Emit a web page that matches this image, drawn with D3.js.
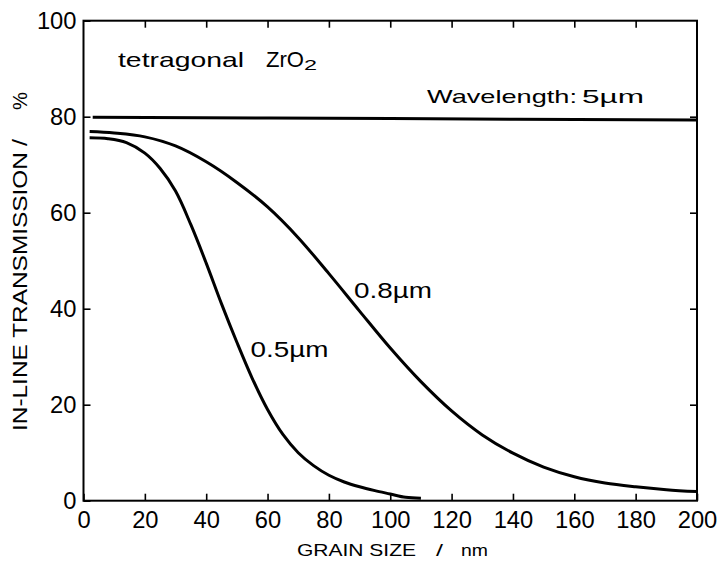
<!DOCTYPE html>
<html>
<head>
<meta charset="utf-8">
<script src="https://cdn.jsdelivr.net/npm/d3@7"></script>
<style>
  body { margin: 0; background: #fff; }
  text { font-family: "Liberation Sans", Arial, sans-serif; fill: #000; }
</style>
</head>
<body>
<div id="chart"></div>
<script>
// grain size (nm) vs in-line transmission (%) for three wavelengths
var grain5 = [3, 100, 200];
var trans5 = [79.9, 79.6, 79.3];

var grain08 = [2, 10, 20, 30, 40, 50, 60, 70, 80, 90, 100, 110, 120, 130, 140, 150, 160, 170, 180, 190, 200];
var trans08 = [76.9, 76.6, 75.8, 73.9, 70.6, 66.3, 61.2, 54.8, 47.3, 39.5, 31.8, 24.8, 18.7, 13.7, 9.9, 7.0, 5.0, 3.7, 2.9, 2.3, 1.9];

var grain05 = [2, 8, 14, 20, 25, 30, 35, 40, 45, 50, 55, 60, 65, 70, 75, 80, 85, 90, 95, 100, 105, 110];
var trans05 = [75.6, 75.4, 74.6, 72.4, 69.2, 64.5, 57.5, 49.5, 41, 33, 25.5, 19, 13.8, 10, 7.3, 5.3, 3.9, 2.9, 2.1, 1.4, 0.7, 0.5];

var xTicks = [0, 20, 40, 60, 80, 100, 120, 140, 160, 180, 200];
var yTicks = [0, 20, 40, 60, 80, 100];

var margin = {top: 20.7, right: 23, bottom: 60.3, left: 83.5},
    width = 720 - margin.left - margin.right,
    height = 561 - margin.top - margin.bottom;

var svg = d3.select("#chart").append("svg")
    .attr("width", 720)
    .attr("height", 561);

var g = svg.append("g")
    .attr("transform", "translate(" + margin.left + "," + margin.top + ")");

var x = d3.scaleLinear().domain([0, 200]).range([0, width]);
var y = d3.scaleLinear().domain([0, 100]).range([height, 0]);

// inward ticks on all four sides
var bottomAxis = g.append("g")
    .attr("transform", "translate(0," + height + ")")
    .call(d3.axisBottom(x).tickValues(xTicks).tickSize(-7).tickFormat(d3.format("d")));
g.append("g")
    .call(d3.axisTop(x).tickValues(xTicks.slice(1, -1)).tickSize(-7).tickFormat(""));
var leftAxis = g.append("g")
    .call(d3.axisLeft(y).tickValues(yTicks).tickSize(-7).tickFormat(d3.format("d")));
g.append("g")
    .attr("transform", "translate(" + width + ",0)")
    .call(d3.axisRight(y).tickValues(yTicks.slice(1, -1)).tickSize(-7).tickFormat(""));

g.selectAll(".domain").remove();
g.selectAll(".tick line").attr("stroke", "#000").attr("stroke-width", 1.6);

bottomAxis.selectAll("text")
    .attr("y", 27).attr("dy", null)
    .style("font-size", "23px")
    .attr("textLength", function(d) { return String(d).length * 13.2; })
    .attr("lengthAdjust", "spacingAndGlyphs");
leftAxis.selectAll("text")
    .attr("x", -7).attr("dy", "0.36em")
    .style("font-size", "23px")
    .attr("textLength", function(d) { return String(d).length * 13.2; })
    .attr("lengthAdjust", "spacingAndGlyphs");

// frame
g.append("rect")
    .attr("x", 0).attr("y", 0)
    .attr("width", width).attr("height", height)
    .attr("fill", "none")
    .attr("stroke", "#000")
    .attr("stroke-width", 2);

var line = d3.line()
    .x(function(d) { return x(d[0]); })
    .y(function(d) { return y(d[1]); })
    .curve(d3.curveCatmullRom.alpha(0.5));

var series = [d3.zip(grain5, trans5), d3.zip(grain08, trans08), d3.zip(grain05, trans05)];
g.selectAll(".curve")
    .data(series)
    .enter().append("path")
    .attr("class", "curve")
    .attr("d", line)
    .attr("fill", "none")
    .attr("stroke", "#000")
    .attr("stroke-width", 3);

// annotations
function label(txt, px, py, size, len) {
  return svg.append("text")
    .attr("x", px).attr("y", py)
    .style("font-size", size + "px")
    .attr("textLength", len)
    .attr("lengthAdjust", "spacingAndGlyphs")
    .text(txt);
}

label("tetragonal", 118, 66.7, 21, 126);
label("ZrO", 266, 66.7, 22, 38);
label("2", 304, 69.5, 15, 13);
label("Wavelength:", 427, 103.3, 19, 150);
label("5µm", 582, 103.3, 19, 62);
label("0.8µm", 354, 298.3, 22, 78);
label("0.5µm", 250.5, 356.7, 22, 78);

// axis titles
label("GRAIN SIZE", 297, 556, 17, 119);
label("/", 436, 556, 17, 7);
label("nm", 461, 556, 17, 27);

function vlabel(txt, px, py, size, len) {
  return svg.append("text")
    .attr("transform", "translate(" + px + "," + py + ") rotate(-90)")
    .style("font-size", size + "px")
    .attr("textLength", len)
    .attr("lengthAdjust", "spacingAndGlyphs")
    .text(txt);
}
vlabel("IN-LINE TRANSMISSION", 27, 431, 20, 279);
vlabel("/", 27, 146, 20, 7);
vlabel("%", 27, 110, 20, 18);
</script>
</body>
</html>
